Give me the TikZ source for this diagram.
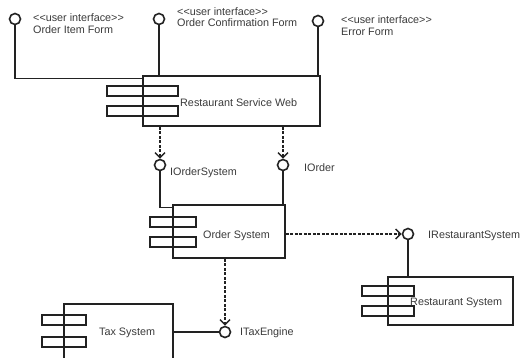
\documentclass[tikz,border=0pt]{standalone}
\usepackage{fontspec}
\setmainfont{Liberation Sans}
\usetikzlibrary{arrows.meta,positioning}
\definecolor{Ink}{HTML}{222222}
\definecolor{Txt}{HTML}{3A3A3A}
\newcommand\uistereo[1]{<\kern0pt<#1>\kern0pt>}
\tikzset{comp/.style={draw=Ink,line width=1.5pt,inner sep=0pt},port/.style={draw=Ink,line width=1.5pt,inner sep=0pt,minimum height=10pt},iface/.style={circle,draw=Ink,line width=1.6pt,fill=white,minimum size=11pt,inner sep=0pt},wire/.style={draw=Ink,line width=1.5pt},dep/.style={draw=Ink,line width=1.5pt,dash pattern=on 3pt off 1.5pt,-{Straight Barb[length=5pt,width=10pt,line width=1.4pt]}},lbl/.style={text=Txt,inner sep=0pt,align=left}}

\begin{document}
\begin{tikzpicture}[x=1pt,y=-1pt,every node/.style={font=\fontsize{10.8}{11.5}\selectfont}]
      \clip (0,0) rectangle (522,357);
      % components
      \node[comp,minimum width=177pt,minimum height=50pt](web) at (231.5,101){};
      \node[port,minimum width=71pt](web1) at (142.5,91){};
      \node[port,minimum width=71pt](web2) at (142.5,111){};
      \node[lbl,anchor=west](webl) at (180,103){Restaurant Service Web};
      \node[comp,minimum width=112pt,minimum height=53pt](ord) at (229,231.5){};
      \node[port,minimum width=46pt](ord1) at (173,222){};
      \node[port,minimum width=46pt](ord2) at (173,242){};
      \node[lbl,anchor=west](ordl) at (203,236){Order System};
      \node[comp,minimum width=125pt,minimum height=48pt](rest) at (450.5,301){};
      \node[port,minimum width=52pt](rest1) at (388,291){};
      \node[port,minimum width=52pt](rest2) at (388,311){};
      \node[lbl,anchor=west](restl) at (410,303){Restaurant System};
      \node[comp,minimum width=109pt,minimum height=66pt](tax) at (118.5,337){};
      \node[port,minimum width=44pt](tax1) at (64,320){};
      \node[port,minimum width=44pt](tax2) at (64,342){};
      \node[lbl,anchor=west](taxl) at (99,333){Tax System};
      % user interfaces
      \node[iface](ui1) at (15,19){};
      \node[iface](ui2) at (159,19){};
      \node[iface](ui3) at (318,21){};
      \node[lbl,anchor=west](ui1l) at (33,23.5){\uistereo{user interface}\\Order Item Form};
      \node[lbl,anchor=west](ui2l) at (177,17){\uistereo{user interface}\\Order Confirmation Form};
      \node[lbl,anchor=west](ui3l) at (341,25.5){\uistereo{user interface}\\Error Form};
      \draw[wire](ui1.south)|-([yshift=-3pt]web.north west);
      \draw[wire](ui2.south)--(web.north-|ui2);
      \draw[wire](ui3.south)--(web.north-|ui3);
      % provided interfaces
      \node[iface](ios) at (160,165){};
      \node[lbl,anchor=west](iosl) at (170,173){IOrderSystem};
      \node[iface](io) at (283,165){};
      \node[lbl,anchor=west](iol) at (304,168){IOrder};
      \node[iface](irs) at (408,234){};
      \node[lbl,anchor=west](irsl) at (428,236){IRestaurantSystem};
      \node[iface](ite) at (225,332){};
      \node[lbl,anchor=west](itel) at (240,333){ITaxEngine};
      \draw[wire](ios.south)|-([yshift=-3pt]ord.north west);
      \draw[wire](io.south)--(ord.north-|io);
      \draw[wire](irs.south)--(rest.north-|irs);
      \draw[wire](ite.west)--(tax.east|-ite);
      % dependencies
      \draw[dep](web.south-|ios)--(ios.north);
      \draw[dep](web.south-|io)--(io.north);
      \draw[dep](irs-|ord.east)--(irs.west);
      \draw[dep](ord.south-|ite)--(ite.north);
    \end{tikzpicture}
\end{document}
